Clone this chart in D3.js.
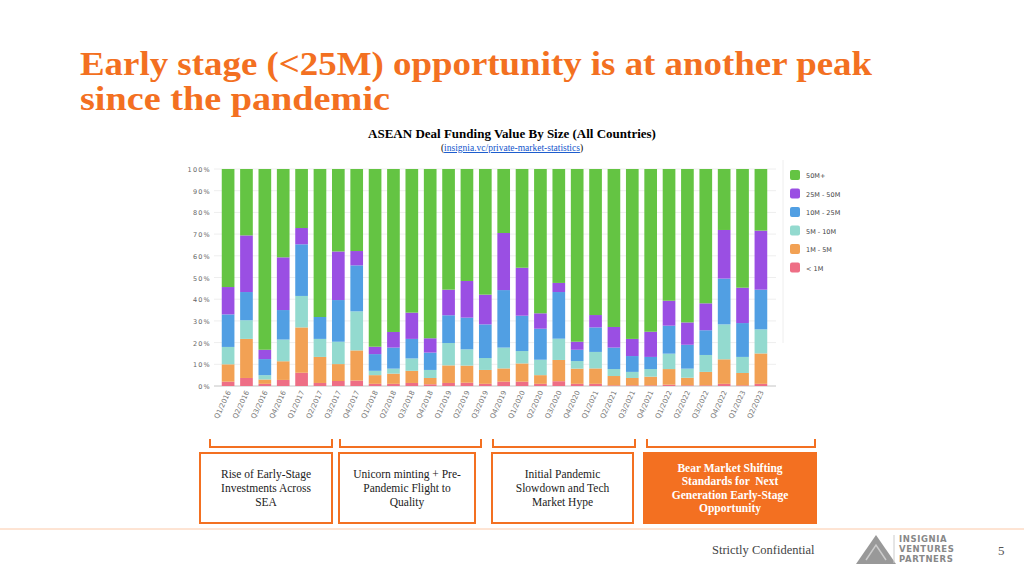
<!DOCTYPE html>
<html><head><meta charset="utf-8">
<script src="https://cdn.jsdelivr.net/npm/d3@7"></script>
<style>body{margin:0;background:#fff}svg{display:block}</style>
</head><body><div id="chart"></div>
<script>
const quarters = ["Q1/2016","Q2/2016","Q3/2016","Q4/2016","Q1/2017","Q2/2017","Q3/2017","Q4/2017","Q1/2018","Q2/2018","Q3/2018","Q4/2018","Q1/2019","Q2/2019","Q3/2019","Q4/2019","Q1/2020","Q2/2020","Q3/2020","Q4/2020","Q1/2021","Q2/2021","Q3/2021","Q4/2021","Q1/2022","Q2/2022","Q3/2022","Q4/2022","Q1/2023","Q2/2023"];
const under1M = [2,3.7,1,2.8,6.1,1.4,2.3,2.5,1,1,1.4,0.8,1.4,1.5,1,2,2,1,2.2,1,1,0.3,0.3,0.3,0.6,0.3,0.3,1,0.3,1];
const m1to5 = [8,18,2,8.6,20.9,12,7.8,13.9,4,4.7,5.6,2.9,8.1,7.9,6.4,6.1,8.4,4,9.8,7,7.1,4.3,3.4,4,7.2,3.5,6.2,11.3,5.7,14];
const m5to10 = [8,8.6,2,10,14.5,8.3,10.3,18,2,2.3,5.7,3.7,10.3,7.5,5.5,9.6,5.7,7.1,9.8,3.5,7.6,3.2,2.8,3.5,7.1,4.2,7.8,16.1,7.4,11.1];
const m10to25 = [15,13,7.4,13.6,23.8,10.1,19.2,21.2,7.7,9.7,9,8,12.8,14.6,15.5,26.5,16.3,14.3,21.5,5.2,11.3,9.9,7.3,5.6,12.9,11,11.4,21.1,15.6,18.3];
const m25to50 = [12.6,26.1,4.3,24.3,7.5,0,22.4,6.6,3.4,7.2,12.1,6.6,11.8,16.9,13.7,26.3,22.1,7.1,4.2,3.7,5.7,9.5,7.9,11.6,11.5,10.3,12.4,22.4,16.3,27.2];
const over50M = quarters.map((q,i)=>100-under1M[i]-m1to5[i]-m5to10[i]-m10to25[i]-m25to50[i]);
const seriesNames = ["< 1M","1M - 5M","5M - 10M","10M - 25M","25M - 50M","50M+"];
const seriesColors = ["#ee6e85","#f2a154","#93dacf","#519fe3","#9a4fe3","#64c443"];
const yTicks = [0,10,20,30,40,50,60,70,80,90,100];
const phases = ["Rise of Early-Stage|Investments Across|SEA","Unicorn minting + Pre-|Pandemic Flight to|Quality","Initial Pandemic|Slowdown and Tech|Market Hype","Bear Market Shifting|Standards for  Next|Generation Early-Stage|Opportunity"];

const rows = quarters.map((q,i)=>({q, s0:under1M[i], s1:m1to5[i], s2:m5to10[i], s3:m10to25[i], s4:m25to50[i], s5:over50M[i]}));
const stack = d3.stack().keys(["s0","s1","s2","s3","s4","s5"])(rows);

const svg = d3.select("#chart").append("svg").attr("width",1024).attr("height",576);
const orange = "#f37021";
const serif = "'Liberation Serif','DejaVu Serif',serif";

// titel
svg.append("text").attr("x",80).attr("y",75).attr("fill",orange).attr("font-family",serif)
  .attr("font-weight","bold").attr("font-size",34).attr("textLength",792).attr("lengthAdjust","spacingAndGlyphs")
  .text("Early stage (<25M) opportunity is at another peak");
svg.append("text").attr("x",80).attr("y",110).attr("fill",orange).attr("font-family",serif)
  .attr("font-weight","bold").attr("font-size",34).attr("textLength",310).attr("lengthAdjust","spacingAndGlyphs")
  .text("since the pandemic");
svg.append("text").attr("x",512).attr("y",138).attr("text-anchor","middle").attr("font-family",serif)
  .attr("font-weight","bold").attr("font-size",13).text("ASEAN Deal Funding Value By Size (All Countries)");
const link = svg.append("text").attr("x",512).attr("y",151).attr("text-anchor","middle").attr("font-family",serif).attr("font-size",9.5);
link.append("tspan").text("(");
link.append("tspan").attr("fill","#1155cc").attr("text-decoration","underline").text("insignia.vc/private-market-statistics");
link.append("tspan").text(")");

// scales
const x = d3.scaleBand().domain(quarters).range([219,770]).paddingInner(0.31).paddingOuter(0.15);
const y = d3.scaleLinear().domain([0,100]).range([386,169]);

const g = svg.append("g");
g.selectAll(".grid").data(yTicks).join("line").attr("x1",214).attr("x2",776)
  .attr("y1",d=>y(d)).attr("y2",d=>y(d)).attr("stroke","#eee");
g.append("line").attr("x1",214).attr("x2",776).attr("y1",y(0)).attr("y2",y(0)).attr("stroke","#ccc");
g.selectAll(".yl").data(yTicks).join("text").attr("x",211).attr("y",d=>y(d)+3)
  .attr("text-anchor","end").attr("font-family","DejaVu Sans").attr("font-size",6.5)
  .attr("letter-spacing",1.2).attr("fill","#666").text(d=>d+"%");

stack.forEach((s,k)=>{
  g.selectAll(".b"+k).data(s).join("rect").attr("x",d=>x(d.data.q)).attr("width",x.bandwidth())
    .attr("y",d=>y(d[1])).attr("height",d=>Math.max(0,y(d[0])-y(d[1]))).attr("fill",seriesColors[k]);
});

g.selectAll(".xl").data(quarters).join("text")
  .attr("transform",d=>`translate(${x(d)+x.bandwidth()/2+3},392) rotate(-65)`)
  .attr("text-anchor","end").attr("font-family","DejaVu Sans").attr("font-size",7).attr("fill","#777").text(d=>d);

// legend
svg.append("line").attr("x1",783).attr("x2",783).attr("y1",160).attr("y2",343).attr("stroke","#eee");
const lg = svg.selectAll(".lg").data(d3.range(6).reverse()).join("g")
  .attr("transform",(d,i)=>`translate(790,${170+i*18.5})`);
lg.append("rect").attr("width",10).attr("height",10).attr("rx",2).attr("fill",d=>seriesColors[d]);
lg.append("text").attr("x",16).attr("y",8).attr("font-family","DejaVu Sans").attr("font-size",6.5)
  .attr("fill","#444").text(d=>seriesNames[d]);

// phases
const boxes = [[200,132],[339,136],[492,141],[644,172]];
const brackets = [[210,332],[340,481],[493,635],[647,815]];
brackets.forEach(b=>svg.append("path").attr("d",`M${b[0]},439 V447 H${b[1]} V439`)
  .attr("fill","none").attr("stroke",orange).attr("stroke-width",2));
boxes.forEach((b,i)=>{
  const last = i===3;
  svg.append("rect").attr("x",b[0]).attr("y",453).attr("width",b[1]).attr("height",70)
    .attr("fill",last?orange:"#fff").attr("stroke",orange).attr("stroke-width",2);
  const lines = phases[i].split("|");
  const t = svg.append("text").attr("text-anchor","middle").attr("font-family",serif)
    .attr("font-size",11.5).attr("font-weight",last?"bold":"normal").attr("fill",last?"#fff":"#222")
    .attr("xml:space","preserve");
  lines.forEach((l,j)=>t.append("tspan").attr("x",b[0]+b[1]/2)
    .attr("y",488-(lines.length-1)*6.8+j*13.6+4).text(l));
});

// footer
svg.append("line").attr("x1",0).attr("x2",1024).attr("y1",529).attr("y2",529).attr("stroke","#fcc9a8");
svg.append("text").attr("x",712).attr("y",554).attr("font-family",serif).attr("font-size",12.5).attr("fill","#444").text("Strictly Confidential");
svg.append("path").attr("d","M856,564 L876,535 L896,564 Z").attr("fill","#999");
svg.append("path").attr("d","M866,560 L876,545 L886,560").attr("fill","none").attr("stroke","#ccc").attr("stroke-width",1.5);
svg.append("line").attr("x1",894).attr("x2",894).attr("y1",535).attr("y2",563).attr("stroke","#ccc");
["INSIGNIA","VENTURES","PARTNERS"].forEach((t,i)=>svg.append("text").attr("x",899).attr("y",542+i*10)
  .attr("font-family","DejaVu Sans").attr("font-weight","bold").attr("font-size",8.5).attr("fill","#888").attr("letter-spacing",0.6).text(t));
svg.append("text").attr("x",998).attr("y",555).attr("font-family",serif).attr("font-size",13).attr("fill","#555").text("5");
</script></body></html>
